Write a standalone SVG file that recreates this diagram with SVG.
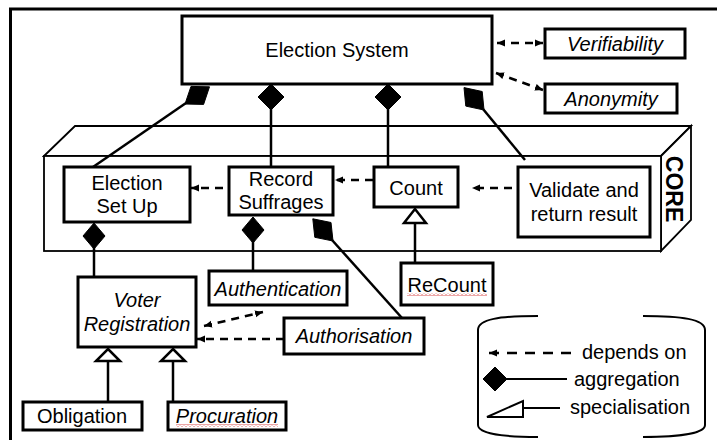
<svg xmlns="http://www.w3.org/2000/svg" width="717" height="440" viewBox="0 0 717 440">
<style>
text{font-family:"Liberation Sans",Arial,sans-serif;font-size:20px;fill:#000}
.c{text-anchor:middle}
.i{font-style:italic}
.box{fill:#fff;stroke:#000;stroke-width:3}
.ln{fill:none;stroke:#000;stroke-width:2.5}
.dash{fill:none;stroke:#000;stroke-width:2.5;stroke-dasharray:8 6}
.dia{fill:#000;stroke:#000;stroke-width:1}
.tri{fill:#fff;stroke:#000;stroke-width:2.5}
.core{fill:#fff;stroke:#000;stroke-width:1.8}
.leg{fill:none;stroke:#000;stroke-width:2}
</style>
<defs>
<marker id="ah" markerUnits="userSpaceOnUse" markerWidth="9" markerHeight="8" refX="8" refY="4" orient="auto-start-reverse">
<path d="M0,0.5 L8,4 L0,7.5 z" fill="#000"/>
</marker>
<pattern id="squig" patternUnits="userSpaceOnUse" width="4" height="3">
<path d="M0,2.5 L2,0.5 L4,2.5" fill="none" stroke="#d02020" stroke-width="0.8"/>
</pattern>
</defs>
<rect width="717" height="440" fill="#fff"/>
<rect x="10.5" y="9" width="720" height="440" fill="none" stroke="#000" stroke-width="3"/>

<g id="core">
<polygon class="core" points="44,156 75,126 691,126 661,156"/>
<polygon class="core" points="661,156 691,126 691,220 661,251"/>
<rect class="core" x="44" y="156" width="617" height="95"/>
<text transform="translate(666,189) rotate(90)" class="c" style="font-weight:bold;font-size:23px">CORE</text>
</g>

<g id="connectors">
<!-- aggregations from Election System -->
<line class="ln" x1="93" y1="167" x2="186" y2="103"/>
<polygon class="dia" points="185,104 203.6,104.4 209.5,86.8 191,86.4"/>
<line class="ln" x1="271" y1="108" x2="271" y2="167"/>
<polygon class="dia" points="271,84 284,97 271,110 258,97"/>
<line class="ln" x1="388" y1="108" x2="388" y2="167"/>
<polygon class="dia" points="388,84 401,97 388,110 375,97"/>
<line class="ln" x1="483" y1="109" x2="525" y2="160"/>
<polygon class="dia" points="484,110 482.2,91.5 464,87.6 465.8,106.1"/>
<!-- dependencies -->
<line class="dash" x1="497" y1="43" x2="543" y2="43" marker-start="url(#ah)" marker-end="url(#ah)"/>
<line class="dash" x1="496" y1="73" x2="543" y2="90" marker-start="url(#ah)" marker-end="url(#ah)"/>
<line class="dash" x1="512" y1="188" x2="472" y2="188" marker-end="url(#ah)"/>
<line class="dash" x1="373" y1="180" x2="335" y2="180" marker-end="url(#ah)"/>
<line class="dash" x1="223" y1="188" x2="191" y2="188" marker-end="url(#ah)"/>
<line class="dash" x1="284" y1="339" x2="197" y2="339" marker-end="url(#ah)"/>
<line class="dash" x1="204" y1="326" x2="263" y2="312" marker-start="url(#ah)" marker-end="url(#ah)"/>
<!-- aggregations lower -->
<line class="ln" x1="94" y1="247" x2="94" y2="277"/>
<polygon class="dia" points="94,223 105,236 94,249 83,236"/>
<line class="ln" x1="253" y1="241" x2="253" y2="271"/>
<polygon class="dia" points="253,217 264,230 253,243 242,230"/>
<line class="ln" x1="332" y1="240" x2="402" y2="318"/>
<polygon class="dia" points="333,241 331,222.5 312.8,218.8 314.8,237.3"/>
<!-- specialisations -->
<line class="ln" x1="415" y1="222" x2="415" y2="263"/>
<polygon class="tri" points="415,209 426,223 404,223"/>
<line class="ln" x1="108" y1="360" x2="108" y2="402"/>
<polygon class="tri" points="108,349 120,361 96,361"/>
<line class="ln" x1="173" y1="360" x2="173" y2="402"/>
<polygon class="tri" points="173,349 185,361 161,361"/>
</g>

<g id="election-system">
<rect class="box" x="182" y="16" width="310" height="68"/>
<text class="c" x="337" y="57">Election System</text>
</g>
<g id="verifiability">
<rect class="box" x="545" y="29" width="140" height="29"/>
<text class="c i" x="615" y="51">Verifiability</text>
</g>
<g id="anonymity">
<rect class="box" x="545" y="84" width="132" height="29"/>
<text class="c i" x="611" y="106">Anonymity</text>
</g>
<g id="election-set-up">
<rect class="box" x="64" y="167" width="126" height="55"/>
<text class="c" x="127" y="190">Election</text>
<text class="c" x="127" y="213">Set Up</text>
</g>
<g id="record-suffrages">
<rect class="box" x="229" y="167" width="104" height="48"/>
<text class="c" x="281" y="186">Record</text>
<text class="c" x="281" y="209">Suffrages</text>
</g>
<g id="count">
<rect class="box" x="374" y="167" width="84" height="40"/>
<text class="c" x="416" y="195">Count</text>
</g>
<g id="validate">
<rect class="box" x="518" y="167" width="132" height="70"/>
<text class="c" x="584" y="197">Validate and</text>
<text class="c" x="584" y="221">return result</text>
</g>
<g id="voter-registration">
<rect class="box" x="78" y="277" width="118" height="70"/>
<text class="c i" x="137" y="307">Voter</text>
<text class="c i" x="137" y="331">Registration</text>
</g>
<g id="authentication">
<rect class="box" x="209" y="271" width="138" height="34"/>
<text class="c i" x="278" y="296">Authentication</text>
</g>
<g id="authorisation">
<rect class="box" x="284" y="318" width="140" height="36"/>
<text class="c i" x="354" y="343">Authorisation</text>
</g>
<g id="recount">
<rect class="box" x="401" y="263" width="92" height="42"/>
<text class="c" x="447" y="292">ReCount</text>
<rect x="407" y="293" width="80" height="3" fill="url(#squig)"/>
</g>
<g id="obligation">
<rect class="box" x="23" y="402" width="119" height="28"/>
<text class="c" x="82" y="423">Obligation</text>
</g>
<g id="procuration">
<rect class="box" x="168" y="402" width="118" height="28"/>
<text class="c i" x="227" y="423">Procuration</text>
<rect x="176" y="424" width="102" height="3" fill="url(#squig)"/>
</g>

<g id="legend">
<path class="leg" d="M538,316 C500,316 478,319 478,330 L478,425 C478,433 500,437 538,437"/>
<path class="leg" d="M643,316 C681,316 705,319 705,330 L705,425 C705,433 681,437 643,437"/>
<line x1="489" y1="353" x2="572" y2="353" stroke="#000" stroke-width="2.5" stroke-dasharray="10 8" marker-start="url(#ah)"/>
<text x="582" y="359">depends on</text>
<polygon class="dia" points="495,367 507,379 495,391 483,379"/>
<line x1="505" y1="379" x2="567" y2="379" stroke="#000" stroke-width="2"/>
<text x="574" y="386">aggregation</text>
<polygon fill="#fff" stroke="#000" stroke-width="2" points="487,417 523,401 523,417"/>
<line x1="523" y1="408" x2="560" y2="408" stroke="#000" stroke-width="2"/>
<text x="570" y="414">specialisation</text>
</g>
</svg>
